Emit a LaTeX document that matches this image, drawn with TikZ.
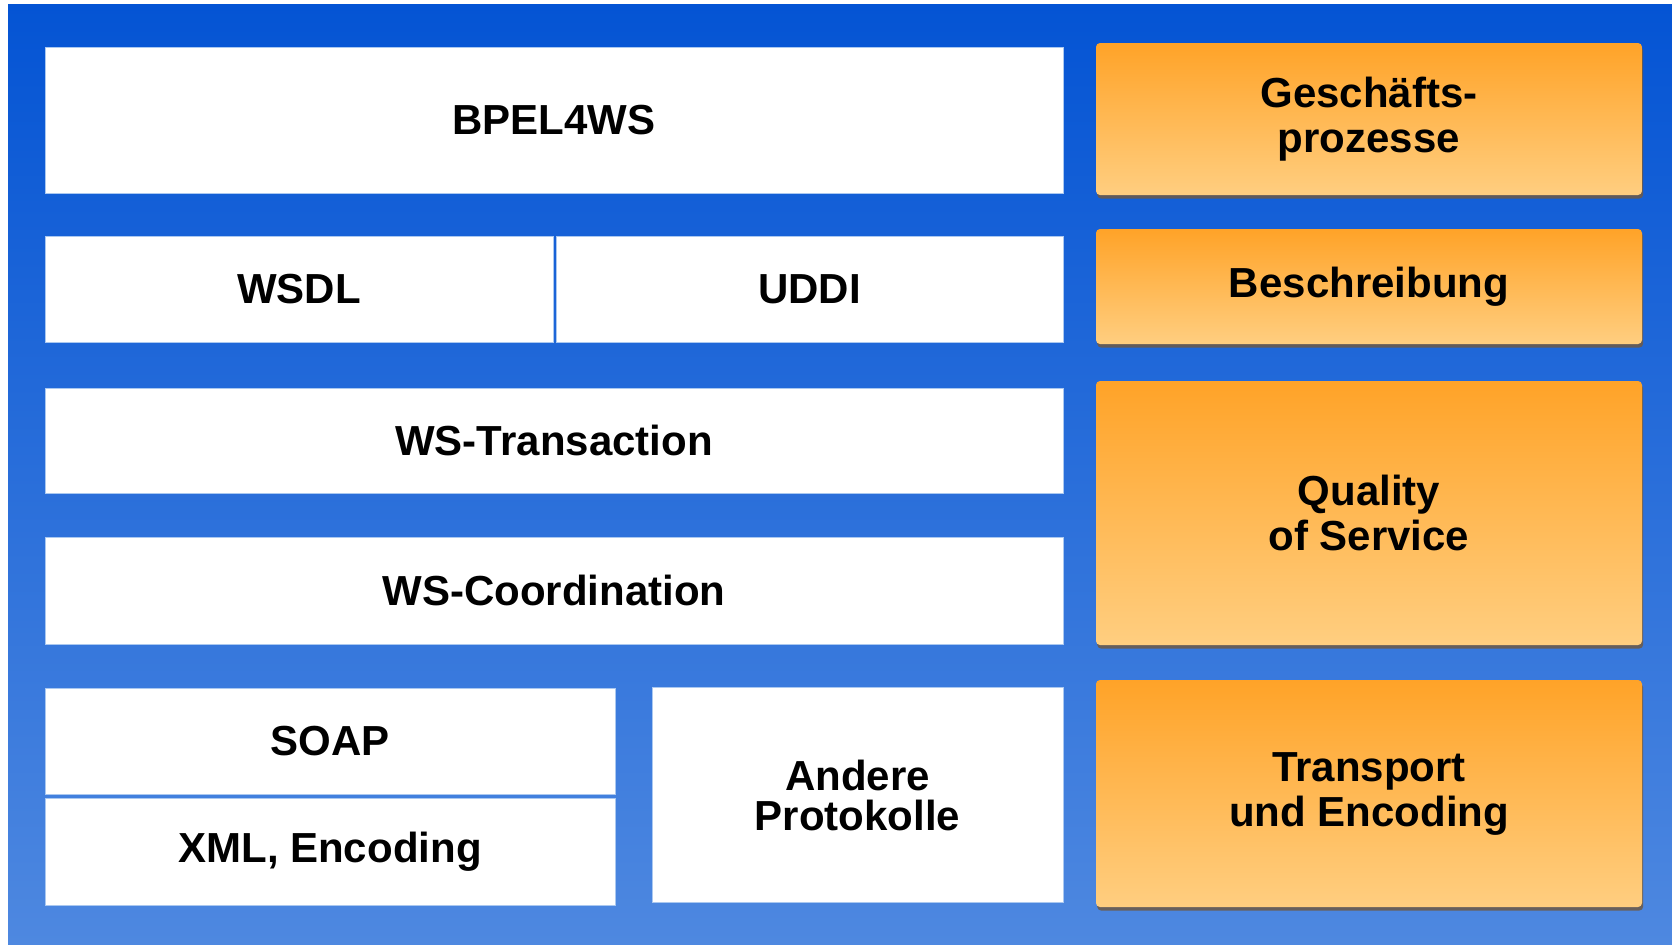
\documentclass[tikz,border=0pt]{standalone}
\usepackage{fontspec}
\setmainfont{Liberation Sans}
\usepackage{xcolor}
\usepackage{tikz}
\usetikzlibrary{shadows}
\definecolor{bgtop}{RGB}{4,84,212}
\definecolor{bgbot}{RGB}{78,136,224}
\definecolor{ortop}{RGB}{255,163,40}
\definecolor{orbot}{RGB}{255,206,128}
\definecolor{rimblue}{RGB}{170,200,240}
\definecolor{shadowbrn}{RGB}{110,90,70}

\begin{document}
\begin{tikzpicture}[x=0.5pt, y=-0.5pt,
  stackbox/.style={rectangle, draw=rimblue, line width=0.4pt, fill=white, inner sep=0pt, align=center, font=\fontsize{21}{22.5}\selectfont\bfseries},
  sidebox/.style={rectangle, rounded corners=2pt, top color=ortop, bottom color=orbot, inner sep=0pt, align=center, font=\fontsize{21}{22.5}\selectfont\bfseries, drop shadow={shadow xshift=0.6pt, shadow yshift=-1.8pt, fill=shadowbrn, opacity=0.85}}]
\useasboundingbox (0,0) rectangle (1672,944);
% Background
\shade[top color=bgtop, bottom color=bgbot] (8,4) rectangle (1672,944);
% Left stack, row 1
\node[stackbox, minimum width=509pt, minimum height=73pt] (bpel) at (554,120) {BPEL4WS};
% Row 2
\node[stackbox, minimum width=254pt, minimum height=53pt] (wsdl) at (299,289) {WSDL};
\node[stackbox, minimum width=253.5pt, minimum height=53pt] (uddi) at (809.5,289) {UDDI};
% Row 3 and 4
\node[stackbox, minimum width=509pt, minimum height=52.5pt] (wstx) at (554,440.5) {WS-Transaction};
\node[stackbox, minimum width=509pt, minimum height=53.5pt] (wscoord) at (554,590.5) {WS-Coordination};
% Row 5
\node[stackbox, minimum width=285pt, minimum height=53pt] (soap) at (330,741) {SOAP};
\node[stackbox, minimum width=285pt, minimum height=53.5pt] (xmlenc) at (330,851.5) {XML, Encoding};
\node[stackbox, minimum width=205.5pt, minimum height=107.5pt, font=\fontsize{21}{20}\selectfont\bfseries] (andere) at (857.5,795) {Andere\\Protokolle};
% Right column
\node[sidebox, minimum width=273pt, minimum height=76pt] (geschaeft) at (1369,119) {Geschäfts-\\prozesse};
\node[sidebox, minimum width=273pt, minimum height=57.5pt] (beschr) at (1369,286.5) {Beschreibung};
\node[sidebox, minimum width=273pt, minimum height=132pt] (qos) at (1369,513) {Quality\\of Service};
\node[sidebox, minimum width=273pt, minimum height=113.5pt] (transport) at (1369,793.5) {Transport\\und Encoding};
\end{tikzpicture}
\end{document}
